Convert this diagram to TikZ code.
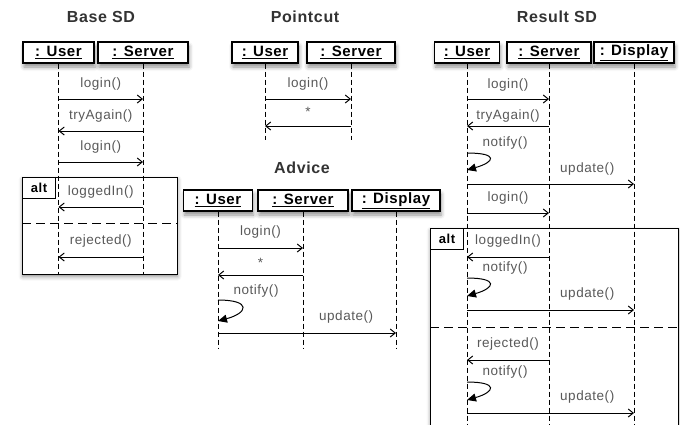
\documentclass[tikz,border=0pt]{standalone}
\usepackage{fontspec}
\setmainfont{Liberation Sans}[LetterSpace=4]
\usetikzlibrary{arrows.meta,shadows.blur}

\tikzset{
  obj/.style={draw, line width=1.3pt, fill=white, minimum height=21pt, inner sep=0pt,
    font=\fontsize{15}{15}\selectfont\bfseries,
    blur shadow={shadow xshift=1pt, shadow yshift=-4pt, shadow blur radius=4pt, shadow opacity=45}},
  ttl/.style={text=black!80, font=\fontsize{16}{16}\selectfont\bfseries},
  lbl/.style={text=black!65, inner sep=1pt, font=\fontsize{13.5}{13.5}\selectfont},
  life/.style={line width=1pt, dash pattern=on 5pt off 3pt},
  msg/.style={line width=1pt, -{Straight Barb[length=5pt,width=8pt]}},
  selfmsg/.style={line width=1pt, -{Triangle[length=9pt,width=8pt]}},
  altframe/.style={draw, line width=1.3pt, fill=white, anchor=north west, inner sep=0pt,
    blur shadow={shadow xshift=0pt, shadow yshift=-2pt, shadow blur radius=4pt, shadow opacity=45}},
  alttag/.style={draw, line width=1pt, anchor=north west, minimum width=33pt, minimum height=21pt,
    inner sep=0pt, font=\fontsize{13}{13}\selectfont\bfseries},
  altsep/.style={line width=1pt, dash pattern=on 9pt off 5pt},
}

\begin{document}
\begin{tikzpicture}[x=1pt,y=-1pt]
  \useasboundingbox (0,0) rectangle (680,424);
  \clip (0,0) rectangle (680,424);

  % base sequence diagram
  \node[ttl] (tBase) at (101,17) {Base SD};
  \node[altframe, minimum width=155pt, minimum height=97pt] (bAlt) at (22,177) {};
  \node[alttag] (bTag) at (bAlt.north west) {alt};
  \node[obj, minimum width=71pt] (bU) at (58.5,52.5) {\underline{: User}};
  \node[obj, minimum width=90pt] (bS) at (143,52.5) {\underline{: Server}};
  \foreach \o in {bU,bS}
    \draw[life] (\o.south) -- (\o.south |- 0,275);
  \draw[altsep] (bAlt.west |- 0,223) -- (bAlt.east |- 0,223);
  \draw[msg] (bU |- 0,99) -- node[lbl, above=7pt] {login()} (bS |- 0,99);
  \draw[msg] (bS |- 0,131) -- node[lbl, above=7pt] {tryAgain()} (bU |- 0,131);
  \draw[msg] (bU |- 0,162) -- node[lbl, above=7pt] {login()} (bS |- 0,162);
  \draw[msg] (bS |- 0,207) -- node[lbl, above=7pt] {loggedIn()} (bU |- 0,207);
  \draw[msg] (bS |- 0,257) -- node[lbl, above=8pt] {rejected()} (bU |- 0,257);

  % pointcut
  \node[ttl] (tCut) at (305,17) {Pointcut};
  \node[obj, minimum width=66pt] (pU) at (265,52.5) {\underline{: User}};
  \node[obj, minimum width=88pt] (pS) at (351,52.5) {\underline{: Server}};
  \foreach \o in {pU,pS}
    \draw[life] (\o.south) -- (\o.south |- 0,140);
  \draw[msg] (pU |- 0,99) -- node[lbl, above=7pt] {login()} (pS |- 0,99);
  \draw[msg] (pS |- 0,126) -- node[lbl, above=8pt] {*} (pU |- 0,126);

  % advice
  \node[ttl] (tAdv) at (302,168) {Advice};
  \node[obj, minimum width=69pt] (aU) at (218,200.5) {\underline{: User}};
  \node[obj, minimum width=90pt] (aS) at (303,200.5) {\underline{: Server}};
  \node[obj, minimum width=88pt] (aD) at (396,200.5) {\underline{: Display}};
  \foreach \o in {aU,aS,aD}
    \draw[life] (\o.south) -- (\o.south |- 0,348);
  \draw[msg] (aU |- 0,248) -- node[lbl, above=8pt] {login()} (aS |- 0,248);
  \draw[msg] (aS |- 0,275) -- node[lbl, above=6pt] {*} (aU |- 0,275);
  \draw[selfmsg] (aU |- 0,300) node[lbl, anchor=west, xshift=14pt, yshift=9pt] {notify()}
    .. controls +(34,0) and +(30,-8) .. (aU |- 0,321);
  \draw[msg] (aU |- 0,333) -- node[lbl, above=8pt, pos=.72] {update()} (aD |- 0,333);

  % result sequence diagram
  \node[ttl] (tRes) at (557,17) {Result SD};
  \node[altframe, minimum width=248pt, minimum height=220pt] (rAlt) at (430,228) {};
  \node[alttag] (rTag) at (rAlt.north west) {alt};
  \node[obj, minimum width=65pt] (rU) at (467,52.5) {\underline{: User}};
  \node[obj, minimum width=84pt] (rS) at (549,52.5) {\underline{: Server}};
  \node[obj, minimum width=80pt] (rD) at (634,52.5) {\underline{: Display}};
  \foreach \o in {rU,rS,rD}
    \draw[life] (\o.south) -- (\o.south |- 0,430);
  \draw[altsep] (rAlt.west |- 0,327) -- (rAlt.east |- 0,327);
  \draw[msg] (rU |- 0,99) -- node[lbl, above=6pt] {login()} (rS |- 0,99);
  \draw[msg] (rS |- 0,126) -- node[lbl, above=2pt] {tryAgain()} (rU |- 0,126);
  \draw[selfmsg] (rU |- 0,153) node[lbl, anchor=west, xshift=14pt, yshift=10pt] {notify()}
    .. controls +(32,0) and +(28,-8) .. (rU |- 0,170);
  \draw[msg] (rU |- 0,184) -- node[lbl, above=7pt, pos=.72] {update()} (rD |- 0,184);
  \draw[msg] (rU |- 0,213) -- node[lbl, above=7pt] {login()} (rS |- 0,213);
  \draw[msg] (rS |- 0,257) -- node[lbl, above=8pt] {loggedIn()} (rU |- 0,257);
  \draw[selfmsg] (rU |- 0,278) node[lbl, anchor=west, xshift=14pt, yshift=10pt] {notify()}
    .. controls +(32,0) and +(28,-8) .. (rU |- 0,296);
  \draw[msg] (rU |- 0,310) -- node[lbl, above=8pt, pos=.72] {update()} (rD |- 0,310);
  \draw[msg] (rS |- 0,360) -- node[lbl, above=8pt] {rejected()} (rU |- 0,360);
  \draw[selfmsg] (rU |- 0,382) node[lbl, anchor=west, xshift=14pt, yshift=10pt] {notify()}
    .. controls +(32,0) and +(28,-8) .. (rU |- 0,400);
  \draw[msg] (rU |- 0,413) -- node[lbl, above=8pt, pos=.72] {update()} (rD |- 0,413);
\end{tikzpicture}
\end{document}
